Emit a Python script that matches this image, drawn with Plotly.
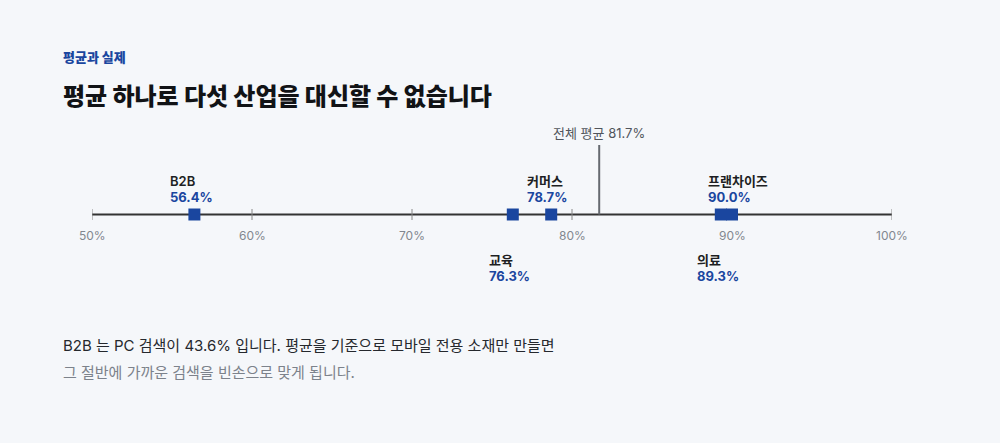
import plotly.graph_objects as go

# ---- data ----
industries = ["B2B", "교육", "커머스", "의료", "프랜차이즈"]
mobile_share = [56.4, 76.3, 78.7, 89.3, 90.0]
label_side = ["above", "below", "above", "below", "above"]
overall_avg = 81.7
avg_label = "전체 평균 81.7%"
tick_vals = [50, 60, 70, 80, 90, 100]
tick_text = ["50%", "60%", "70%", "80%", "90%", "100%"]
eyebrow = "평균과 실제"
title = "평균 하나로 다섯 산업을 대신할 수 없습니다"
note_line1 = "B2B 는 PC 검색이 43.6% 입니다. 평균을 기준으로 모바일 전용 소재만 만들면"
note_line2 = "그 절반에 가까운 검색을 빈손으로 맞게 됩니다."

FONT = "Inter, 'Noto Sans CJK KR', sans-serif"
BLUE = "#1a469f"
BG = "#f5f7fa"
AXIS_Y = 214.5

fig = go.Figure()

# axis baseline
fig.add_shape(type="line", x0=tick_vals[0], x1=tick_vals[-1], y0=AXIS_Y, y1=AXIS_Y,
              line=dict(color="#333333", width=2), layer="below")
# ticks and tick labels
for v, t in zip(tick_vals, tick_text):
    fig.add_shape(type="line", x0=v, x1=v, y0=AXIS_Y - 5.5, y1=AXIS_Y + 5.5,
                  line=dict(color="#888888", width=1), layer="below")
    fig.add_annotation(x=v, y=235, text=t, showarrow=False, xanchor="center", yanchor="middle",
                       font=dict(family=FONT, size=12, color="#82878f"))

# average line
fig.add_shape(type="line", x0=overall_avg, x1=overall_avg, y0=145, y1=AXIS_Y,
              line=dict(color="#666a70", width=2))
fig.add_annotation(x=overall_avg, y=133, text=avg_label, showarrow=False,
                   xanchor="center", yanchor="middle",
                   font=dict(family=FONT, size=13, color="#50555c"))

# markers
fig.add_trace(go.Scatter(x=mobile_share, y=[AXIS_Y] * len(mobile_share), mode="markers",
                         marker=dict(symbol="square", size=12, color=BLUE,
                                     line=dict(width=0)),
                         hoverinfo="skip", showlegend=False))

# labels
for name, v, side in zip(industries, mobile_share, label_side):
    ny, vy = (181, 197) if side == "above" else (260, 276)
    fig.add_annotation(x=v, y=ny, text=name, showarrow=False, xanchor="left",
                       yanchor="middle", xshift=-26,
                       font=dict(family=FONT, size=13, color="#1d1f23", weight=600))
    fig.add_annotation(x=v, y=vy, text=f"{v:.1f}%", showarrow=False, xanchor="left",
                       yanchor="middle", xshift=-26,
                       font=dict(family=FONT, size=13, color=BLUE, weight=700))

fig.update_layout(
    width=1000, height=443,
    margin=dict(l=92, r=108, t=0, b=0),
    paper_bgcolor=BG, plot_bgcolor=BG,
    xaxis=dict(range=[50, 100], visible=False, fixedrange=True),
    yaxis=dict(range=[443, 0], visible=False, fixedrange=True),
    showlegend=False,
)

def ptxt(text, px, py, size, color, weight=400):
    fig.add_annotation(xref="paper", yref="paper", x=(px - 92) / 800, y=1 - py / 443,
                       text=text, showarrow=False,
                       xanchor="left", yanchor="middle",
                       font=dict(family=FONT, size=size, color=color, weight=weight))

ptxt(eyebrow, 61, 57, 13, BLUE, weight=800)
ptxt(title, 61, 97, 24, "#111316", weight=800)
ptxt(note_line1, 61, 345, 15, "#25282d")
ptxt(note_line2, 61, 372, 15, "#7c828b")

fig.write_html("out.html", post_script="document.body.style.margin='0';document.body.style.background='%s';" % BG,
               config={"displayModeBar": False})
